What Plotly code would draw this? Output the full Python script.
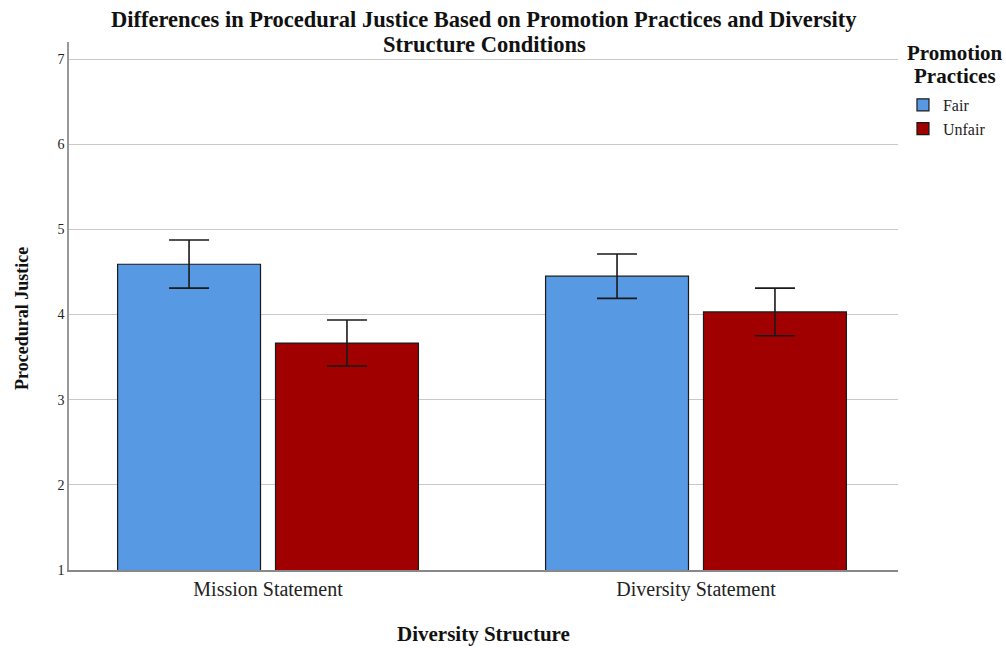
import plotly.graph_objects as go

categories = ["Mission Statement", "Diversity Statement"]
fair_means = [4.59, 4.45]
fair_err_plus = [0.285, 0.26]
fair_err_minus = [0.28, 0.26]
unfair_means = [3.665, 4.03]
unfair_err_plus = [0.27, 0.28]
unfair_err_minus = [0.27, 0.28]
y_ticks = [1, 2, 3, 4, 5, 6, 7]

SERIF = "Liberation Serif, Times New Roman, serif"

fig = go.Figure()
fig.add_trace(go.Bar(
    x=categories, y=fair_means, name="Fair",
    marker=dict(color="#5899e3", line=dict(color="#1a1a1a", width=1.2)),
    error_y=dict(type="data", array=fair_err_plus, arrayminus=fair_err_minus,
                 color="#1a1a1a", thickness=1.6, width=20),
))
fig.add_trace(go.Bar(
    x=categories, y=unfair_means, name="Unfair",
    marker=dict(color="#a10000", line=dict(color="#1a1a1a", width=1.2)),
    error_y=dict(type="data", array=unfair_err_plus, arrayminus=unfair_err_minus,
                 color="#1a1a1a", thickness=1.6, width=20),
))

fig.update_layout(
    width=1006, height=648,
    margin=dict(l=69, r=108, t=42, b=78),
    paper_bgcolor="white", plot_bgcolor="white",
    barmode="group", bargap=0.262, bargroupgap=0.095,
    font=dict(family=SERIF, color="#111111"),
    xaxis=dict(
        range=[-0.465, 1.472], showgrid=False, showline=True,
        linecolor="#888888", linewidth=2, ticks="",
        tickfont=dict(size=20, family=SERIF, color="#222222"),
    ),
    yaxis=dict(
        range=[1, 7.2], tickvals=y_ticks, showgrid=True, gridcolor="#c8c8c8", gridwidth=1.2,
        showline=True, linecolor="#999999", linewidth=1.5, ticks="", zeroline=False,
        tickfont=dict(size=14, family=SERIF, color="#222222"),
    ),
    legend=dict(
        x=1.006, xanchor="left", y=0.913, yanchor="top",
        font=dict(size=16, family=SERIF, color="#222222"),
        itemwidth=30, tracegroupgap=0, bgcolor="rgba(0,0,0,0)",
    ),
    annotations=[
        dict(text="<b>Differences in Procedural Justice Based on Promotion Practices and Diversity</b>",
             xref="paper", yref="paper", x=(484 - 69) / 829, y=1 + (42 - 20) / 528,
             xanchor="center", yanchor="middle", showarrow=False,
             font=dict(size=22.5, family=SERIF, color="#111111")),
        dict(text="<b>Structure Conditions</b>",
             xref="paper", yref="paper", x=(484 - 69) / 829, y=1 + (42 - 44) / 528,
             xanchor="center", yanchor="middle", showarrow=False,
             font=dict(size=22.5, family=SERIF, color="#111111")),
        dict(text="<b>Promotion</b>", xref="paper", yref="paper",
             x=(955 - 69) / 829, y=1 + (42 - 53) / 528, xanchor="center", yanchor="middle",
             showarrow=False, font=dict(size=21, family=SERIF, color="#111111")),
        dict(text="<b>Practices</b>", xref="paper", yref="paper",
             x=(955 - 69) / 829, y=1 + (42 - 76) / 528, xanchor="center", yanchor="middle",
             showarrow=False, font=dict(size=21, family=SERIF, color="#111111")),
        dict(text="<b>Diversity Structure</b>", xref="paper", yref="paper",
             x=(483 - 69) / 829, y=-(634 - 570) / 528, xanchor="center", yanchor="middle",
             showarrow=False, font=dict(size=21, family=SERIF, color="#111111")),
        dict(text="<b>Procedural Justice</b>", xref="paper", yref="paper",
             x=-(69 - 22) / 829, y=(570 - 319) / 528, xanchor="center", yanchor="middle",
             textangle=-90, showarrow=False, font=dict(size=18, family=SERIF, color="#111111")),
    ],
)

fig.write_html("out.html")
